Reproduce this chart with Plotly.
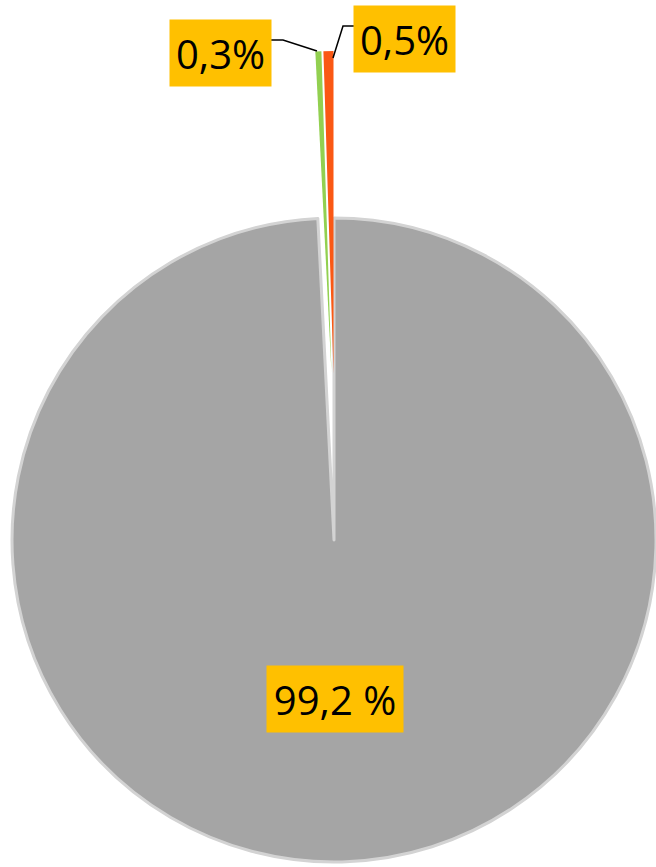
import plotly.graph_objects as go

# ---- data ----
categories = ["Rest", "Green share", "Orange share"]
values = [99.2, 0.3, 0.5]
label_texts = ["99,2 %", "0,3%", "0,5%"]
colors = ["#A5A5A5", "#92D050", "#FA5814"]

W, H = 656, 867
R = 322  # pie radius in px


def dom(cx, cy, r=R):
    return dict(x=[(cx - r) / W, (cx + r) / W],
                y=[1 - (cy + r) / H, 1 - (cy - r) / H])


TRANSP = "rgba(0,0,0,0)"

fig = go.Figure()

# main (unexploded) pie: grey part, small slices left empty
fig.add_trace(go.Pie(
    labels=categories, values=values, sort=False, direction="clockwise", rotation=0,
    marker=dict(colors=[colors[0], TRANSP, TRANSP],
                line=dict(color=["#D3D3D3", TRANSP, TRANSP], width=[3, 0, 0])),
    textinfo="none", hoverinfo="label+percent", showlegend=False,
    domain=dom(334, 540),
))
# exploded green slice
fig.add_trace(go.Pie(
    labels=categories, values=values, sort=False, direction="clockwise", rotation=0,
    marker=dict(colors=[TRANSP, colors[1], TRANSP], line=dict(width=0)),
    textinfo="none", hoverinfo="label+percent", showlegend=False,
    domain=dom(331.5, 373),
))
# exploded orange slice
fig.add_trace(go.Pie(
    labels=categories, values=values, sort=False, direction="clockwise", rotation=0,
    marker=dict(colors=[TRANSP, TRANSP, colors[2]], line=dict(width=0)),
    textinfo="none", hoverinfo="label+percent", showlegend=False,
    domain=dom(333.5, 373),
))

# label boxes (center px, width px)
label_boxes = [(335, 699, 136), (220.5, 53, 101), (404.5, 39, 101)]
for txt, (bx, by, bw) in zip(label_texts, label_boxes):
    fig.add_annotation(
        x=bx / W, y=1 - by / H, xref="paper", yref="paper",
        xanchor="center", yanchor="middle",
        text=txt, showarrow=False, bgcolor="#FFC000",
        width=bw, height=66, borderpad=0, align="center", valign="middle",
        font=dict(family="Open Sans", size=40, color="#000000"),
    )


def px_path(pts):
    return "M " + " L ".join(f"{x / W},{1 - y / H}" for x, y in pts)


# leader lines
for pts in [[(271, 40), (283, 40), (317, 51)], [(354, 26), (343, 26), (333, 58)]]:
    fig.add_shape(type="path", xref="paper", yref="paper", path=px_path(pts),
                  line=dict(color="#000000", width=1.5))

fig.update_layout(
    width=W, height=H, margin=dict(l=0, r=0, t=0, b=0),
    paper_bgcolor="white", plot_bgcolor="white", showlegend=False,
)

fig.write_html("out.html", config={"displayModeBar": False},
               post_script="document.body.style.margin='0';")
